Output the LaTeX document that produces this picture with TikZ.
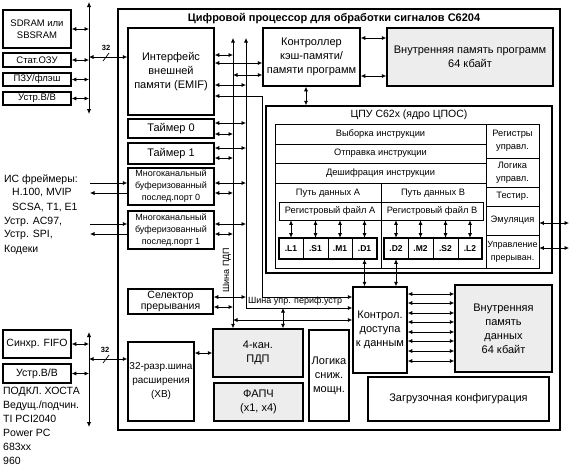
\documentclass[tikz,border=0pt]{standalone}
\usepackage{fontspec}
\setmainfont{Liberation Sans}
\usepackage{xcolor}
\definecolor{memGray}{HTML}{EDEDED}
\usepackage{tikz}
\usetikzlibrary{arrows.meta}
\tikzset{size/.style 2 args={minimum width=#1, minimum height=#2}}
\tikzset{block/.style={draw, line width=1.5pt, inner sep=0pt, align=center, font=\fontsize{11}{14}\selectfont}}
\tikzset{memory/.style={block, fill=memGray}}
\tikzset{small block/.style={block, font=\fontsize{9}{12}\selectfont}}
\tikzset{cell/.style={draw, line width=0.6pt, inner sep=0pt, align=center, font=\fontsize{9.3}{13}\selectfont}}
\tikzset{unit/.style={cell, font=\fontsize{8.5}{10}\selectfont\bfseries}}
\tikzset{note/.style={inner sep=0pt, font=\fontsize{10.5}{14}\selectfont}}
\tikzset{link/.style={line width=0.7pt, {Latex[length=4.5pt,width=4pt]}-{Latex[length=4.5pt,width=4pt]}}}
\tikzset{bus/.style={line width=0.9pt, {Latex[length=5pt,width=4.5pt]}-{Latex[length=5pt,width=4.5pt]}}}

\begin{document}
\begin{tikzpicture}[x=1pt, y=-1pt]
\useasboundingbox (0,0) rectangle (569,469);
% chip outline
\node[block, size={442}{421}](chip) at (339,219.5){};
\node[note, font=\fontsize{11}{12}\selectfont\bfseries](chipname) at (334,19){Цифровой процессор для обработки сигналов С6204};
% external memory side
\node[block, font=\fontsize{9.5}{12}\selectfont, size={68}{38}](sdram) at (37,29){SDRAM или\\SBSRAM};
\node[block, font=\fontsize{9.5}{12}\selectfont, size={68}{14}](sram) at (37,60){Стат.ОЗУ};
\node[block, font=\fontsize{9.5}{12}\selectfont, size={68}{13}](rom) at (37,79.5){ПЗУ/флэш};
\node[block, font=\fontsize{9.5}{12}\selectfont, size={68}{13}](io) at (37,98.5){Устр.В/В};
\coordinate (memTop) at (89,2);
\coordinate (memBot) at (89,114);
% host side
\node[block, font=\fontsize{10.5}{12}\selectfont, size={68}{28}](fifo) at (37,344){Синхр. FIFO};
\node[block, font=\fontsize{10.5}{12}\selectfont, size={68}{19}](hostio) at (37,373.5){Устр.В/В};
\coordinate (hostTop) at (89,332);
\coordinate (hostBot) at (89,427);
\node[note, align=left, anchor=north west](host) at (3,387){ПОДКЛ. ХОСТА\\Ведущ./подчин.\\TI PCI2040\\Power PC\\683xx\\960};
\node[note, align=left, anchor=north west](framers) at (4,174){ИС фреймеры:\\\hspace*{8pt}H.100, MVIP\\\hspace*{8pt}SCSA, T1, E1\\Устр. AC97,\\Устр. SPI,\\Кодеки};
% peripherals
\node[block, size={86}{87}](emif) at (171,71.5){Интерфейс\\внешней\\памяти (EMIF)};
\node[block, size={86}{19}](timer0) at (171,128.5){Таймер 0};
\node[block, size={86}{21}](timer1) at (171,153.5){Таймер 1};
\node[small block, size={86}{37}](mcbsp0) at (171,186.5){Многоканальный\\буферизованный\\послед.порт 0};
\node[small block, size={86}{38}](mcbsp1) at (171,230){Многоканальный\\буферизованный\\послед.порт 1};
\node[block, font=\fontsize{10.5}{11.5}\selectfont, size={85}{25}](intsel) at (170.5,301.5){Селектор\\прерывания};
\node[block, font=\fontsize{10}{14}\selectfont, size={66}{79}](xb) at (161,381.5){32-разр.шина\\расширения\\(XB)};
\node[memory, size={90}{48}](dma) at (258,353){4-кан.\\ПДП};
\node[memory, size={89}{38}](pll) at (258.5,402){ФАПЧ\\(x1, x4)};
\node[block, size={40}{91}](pwrdn) at (329,375.5){Логика\\сниж.\\мощн.};
\node[block, size={54}{86}](dctl) at (380,330){Контрол.\\доступа\\к данным};
\node[memory, size={97}{87}](dmem) at (503.5,328.5){Внутренняя\\память\\данных\\64 кбайт};
\node[block, size={181}{44}](boot) at (458.5,399){Загрузочная конфигурация};
\node[block, size={97}{58}](cache) at (311.5,57){Контроллер\\кэш-памяти/\\памяти программ};
\node[memory, size={166}{58}](pmem) at (470,57){Внутренняя память программ\\64 кбайт};
% CPU core
\node[block, size={286}{167}](cpu) at (409,189.5){};
\node[note](cpuname) at (409,115){ЦПУ С62х (ядро ЦПОС)};
\node[cell, size={211}{144}](core) at (380.5,196){};
\node[cell, size={211}{20}](fetch) at (380.5,134){Выборка инструкции};
\node[cell, size={211}{19}](dispatch) at (380.5,153.5){Отправка инструкции};
\node[cell, size={211}{20}](decode) at (380.5,173){Дешифрация инструкции};
\node[cell, size={106}{85}](pathA) at (328,225.5){};
\node[cell, size={105}{85}](pathB) at (433.5,225.5){};
\node[note, font=\fontsize{9.3}{11}\selectfont](pathAname) at (328,193){Путь данных A};
\node[note, font=\fontsize{9.3}{11}\selectfont](pathBname) at (433,193){Путь данных B};
\node[cell, size={102}{18}](regA) at (330,211){Регистровый файл A};
\node[cell, size={102}{18}](regB) at (432,211){Регистровый файл B};
\node[cell, line width=1.5pt, size={98}{21}](unitsA) at (328,248.5){};
\node[cell, line width=1.5pt, size={98}{21}](unitsB) at (433,248.5){};
\node[unit, size={24}{21}](l1) at (291,248.5){.L1};
\node[unit, size={25}{21}](s1) at (315.5,248.5){.S1};
\node[unit, size={24}{21}](m1) at (340,248.5){.M1};
\node[unit, size={25}{21}](d1) at (364.5,248.5){.D1};
\node[unit, size={24}{21}](d2) at (396,248.5){.D2};
\node[unit, size={25}{21}](m2) at (420.5,248.5){.M2};
\node[unit, size={25}{21}](s2) at (445.5,248.5){.S2};
\node[unit, size={24}{21}](l2) at (470,248.5){.L2};
\node[cell, size={53}{34}](ctrlreg) at (512.5,141){Регистры\\управл.};
\node[cell, size={53}{29}](ctrllog) at (512.5,172.5){Логика\\управл.};
\node[cell, size={53}{19}](test) at (512.5,196.5){Тестир.};
\node[cell, size={53}{29}](emu) at (512.5,220.5){Эмуляция};
\node[cell, font=\fontsize{9}{13}\selectfont, size={53}{33}](intctl) at (512.5,251.5){Управление\\прерыван.};
% buses
\coordinate (dmaTop) at (233,38);
\coordinate (perTop) at (246,38);
\coordinate (perEnd) at (246,308);
\coordinate (cpuBus) at (262,297);
\coordinate (serIn) at (90,0);
\coordinate (edgeR) at (569,0);
\draw[bus] (memTop) -- (memBot);
\draw[bus] (hostTop) -- (hostBot);
\draw[link] (dmaTop) -- (dmaTop |- dma.north);
\draw[link] (perTop) -- (perEnd) -- (dctl.west |- perEnd);
\node[note, font=\fontsize{9}{11}\selectfont, anchor=south west](perName) at (248,306){Шина упр. периф.устр};
\node[note, font=\fontsize{9}{11}\selectfont, rotate=90](dmaName) at (227,270){Шина ПДП};
% external links
\draw[link] (sdram.east) -- (memTop |- sdram.east);
\draw[link] (sram.east) -- (memTop |- sram.east);
\draw[link] (rom.east) -- (memTop |- rom.east);
\draw[link] (io.east) -- (memTop |- io.east);
\draw[link] (memTop |- 0,57) -- (emif.west |- 0,57);
\draw[line width=0.7pt] (103,61) -- (109,53);
\node[note, font=\fontsize{7.5}{9}\selectfont\bfseries](width32a) at (106,48){32};
\draw[link] (fifo.east) -- (hostTop |- fifo.east);
\draw[link] (hostio.east) -- (hostTop |- hostio.east);
\draw[link] (hostTop |- 0,359) -- (xb.west |- 0,359);
\draw[line width=0.7pt] (103,363) -- (109,355);
\node[note, font=\fontsize{7.5}{9}\selectfont\bfseries](width32b) at (105,350){32};
\draw[line width=0.7pt, -{Latex[length=4.5pt,width=4pt]}] (serIn |- 0,183) -- (mcbsp0.west |- 0,183);
\draw[line width=0.7pt, {Latex[length=4.5pt,width=4pt]}-] (serIn |- 0,193) -- (mcbsp0.west |- 0,193);
\draw[line width=0.7pt, -{Latex[length=4.5pt,width=4pt]}] (serIn |- 0,224) -- (mcbsp1.west |- 0,224);
\draw[line width=0.7pt, {Latex[length=4.5pt,width=4pt]}-] (serIn |- 0,234) -- (mcbsp1.west |- 0,234);
% EMIF links
\draw[link] (emif.east |- 0,55) -- (dmaTop |- 0,55);
\draw[link] (emif.east |- 0,63) -- (cache.west |- 0,63);
\draw[link] (dmaTop |- 0,75) -- (cache.west |- 0,75);
\draw[link] (emif.east |- 0,85) -- (perTop |- 0,85);
\draw[link] (emif.east |- 0,96) -| (cpuBus) -- (dctl.west |- cpuBus);
% peripheral links
\draw[link] (timer0.east |- 0,123) -- (perTop |- 0,123);
\draw[link] (timer0.east |- 0,134) -- (dmaTop |- 0,134);
\draw[link] (timer1.east |- 0,148) -- (perTop |- 0,148);
\draw[link] (timer1.east |- 0,158) -- (dmaTop |- 0,158);
\draw[link] (mcbsp0.east |- 0,183) -- (perTop |- 0,183);
\draw[link] (mcbsp0.east |- 0,193) -- (dmaTop |- 0,193);
\draw[link] (mcbsp1.east |- 0,224) -- (perTop |- 0,224);
\draw[link] (mcbsp1.east |- 0,234) -- (dmaTop |- 0,234);
\draw[link] (intsel.east |- 0,297) -- (perTop |- 0,297);
\draw[link] (intsel.east |- 0,307) -- (dmaTop |- 0,307);
\draw[link] (dmaTop |- 0,320) -- (dctl.west |- 0,320);
\draw[link] (perEnd -| 283,0) -- (dma.north -| 283,0);
\draw[link] (xb.east |- 0,353) -- (dma.west |- 0,353);
% memory links
\draw[link] (cache.east |- 0,38) -- (pmem.west |- 0,38);
\draw[link] (cache.east |- 0,76) -- (pmem.west |- 0,76);
\draw[link] (cache.south -| 306,0) -- (cpu.north -| 306,0);
\foreach \y in {294,303,313,322,332,341,351,361}
  \draw[link] (dctl.east |- 0,\y) -- (dmem.west |- 0,\y);
% core links
\draw[link] (l1.north) -- (l1.north |- regA.south);
\draw[link] (s1.north) -- (s1.north |- regA.south);
\draw[link] (m1.north) -- (m1.north |- regA.south);
\draw[link] (d1.north) -- (d1.north |- regA.south);
\draw[link] (d2.north) -- (d2.north |- regB.south);
\draw[link] (m2.north) -- (m2.north |- regB.south);
\draw[link] (s2.north) -- (s2.north |- regB.south);
\draw[link] (l2.north) -- (l2.north |- regB.south);
\draw[link] (d1.south) -- (d1.south |- dctl.north);
\draw[link] (d2.south) -- (d2.south |- dctl.north);
\draw[link] (emu.east |- 0,223) -- (edgeR |- 0,223);
\draw[link] (intctl.east |- 0,248) -- (edgeR |- 0,248);
\end{tikzpicture}
\end{document}
